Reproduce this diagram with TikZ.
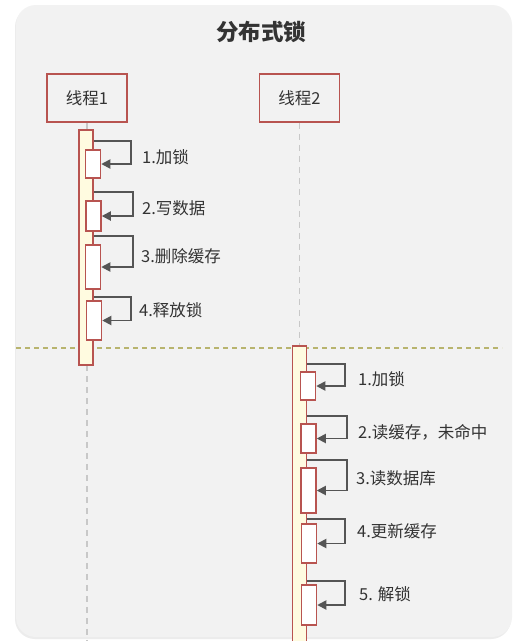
\documentclass[tikz,border=0pt]{standalone}
\usepackage{fontspec}
\setmainfont{Noto Sans CJK SC}
\usetikzlibrary{arrows.meta,shadows}

\definecolor{cardgray}{HTML}{F2F2F2}
\definecolor{headred}{HTML}{B85450}
\definecolor{barcream}{HTML}{FFFBE0}
\definecolor{lifegray}{HTML}{C8C8C8}
\definecolor{sepolive}{HTML}{B8B46E}
\definecolor{callgray}{HTML}{555555}
\definecolor{txtgray}{HTML}{333333}

\tikzset{
    head/.style={draw=headred,line width=1.5pt,minimum width=80pt,minimum height=48pt,font=\fontsize{16.5}{20}\selectfont,text=txtgray},
    bar/.style={draw=headred,fill=barcream,line width=1.5pt,minimum width=14pt,inner sep=0pt},
    act/.style={draw=headred,fill=white,line width=1.5pt,minimum width=15pt,inner sep=0pt},
    call/.style={draw=callgray,line width=1.8pt,-{Triangle[length=9pt,width=9pt]}},
    lbl/.style={anchor=west,inner sep=0pt,font=\fontsize{16.5}{20}\selectfont,text=txtgray},
    lifeline/.style={draw=lifegray,line width=1.5pt,dash pattern=on 6pt off 5pt},
    sepline/.style={draw=sepolive,line width=1.2pt,dash pattern=on 5pt off 4pt}
}

\begin{document}
\begin{tikzpicture}[x=1pt,y=-1pt]
    \path[use as bounding box,fill=white] (0,0) rectangle (520,641);
    \draw[draw=none,fill=cardgray,rounded corners=20pt,drop shadow={shadow xshift=-1pt,shadow yshift=-2pt,opacity=0.15}] (16,5) rectangle (512,637);

    \node[font=\fontsize{22.5}{26}\selectfont\bfseries,text=txtgray] (title) at (261,32) {分布式锁};

    \node[head] (t1) at (87,98) {线程1};
    \node[head] (t2) at (299.5,98) {线程2};

    \coordinate (end1) at (87,645);
    \coordinate (sepL) at (16,348);
    \coordinate (sepR) at (502,348);

    \draw[lifeline] (t1.south) -- (end1);
    \draw[sepline] (sepL) -- (sepR);

    \node[bar,minimum height=235pt] (bar1) at (86,247.5) {};
    \node[bar,minimum height=300pt] (bar2) at (299.5,496) {};
    \draw[lifeline] (t2.south) -- (bar2.north);

    % thread 1
    \node[act,minimum height=28pt] (s1) at (93,164) {};
    \node[act,minimum height=30pt] (s2) at (93.5,216) {};
    \node[act,minimum height=44pt] (s3) at (93,267) {};
    \node[act,minimum height=39pt] (s4) at (94,320.5) {};

    \draw[call] (bar1.east |- s1.north) ++(0,-8) -- ++(37,0) |- (s1.east);
    \draw[call] (bar1.east |- s2.north) ++(0,-8) -- ++(39,0) |- (s2.east);
    \draw[call] (bar1.east |- s3.north) ++(0,-8) -- ++(39,0) |- (s3.east);
    \draw[call] (bar1.east |- s4.north) ++(0,-3) -- ++(37,0) |- (s4.east);

    \node[lbl] (l1) at (142,157) {1.加锁};
    \node[lbl] (l2) at (142,208) {2.写数据};
    \node[lbl] (l3) at (141,256) {3.删除缓存};
    \node[lbl] (l4) at (139,310) {4.释放锁};

    % thread 2
    \node[act,minimum height=28pt] (r1) at (308,386) {};
    \node[act,minimum height=29pt] (r2) at (308.5,438.5) {};
    \node[act,minimum height=45pt] (r3) at (308.5,490.5) {};
    \node[act,minimum height=39pt] (r4) at (309,543.5) {};
    \node[act,minimum height=40pt] (r5) at (309,605) {};

    \draw[call] (bar2.east |- r1.north) ++(0,-7) -- ++(38,0) |- (r1.east);
    \draw[call] (bar2.east |- r2.north) ++(0,-7) -- ++(40,0) |- (r2.east);
    \draw[call] (bar2.east |- r3.north) ++(0,-7) -- ++(40,0) |- (r3.east);
    \draw[call] (bar2.east |- r4.north) ++(0,-4) -- ++(38,0) |- (r4.east);
    \draw[call] (bar2.east |- r5.north) ++(0,-3) -- ++(38,0) |- (r5.east);

    \node[lbl] (m1) at (358,379) {1.加锁};
    \node[lbl] (m2) at (358,432) {2.读缓存，未命中};
    \node[lbl] (m3) at (356,478) {3.读数据库};
    \node[lbl] (m4) at (357,531) {4.更新缓存};
    \node[lbl] (m5) at (359,594) {5. 解锁};
\end{tikzpicture}
\end{document}
